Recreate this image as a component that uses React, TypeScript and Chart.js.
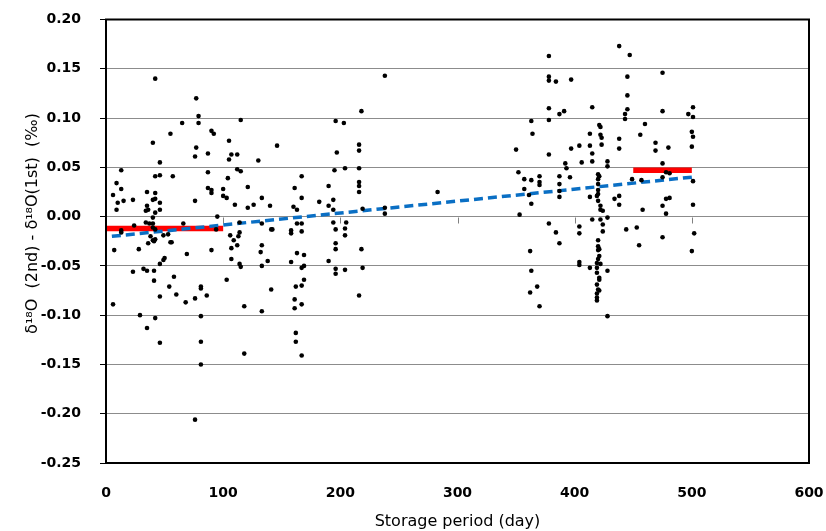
import React, { useEffect, useRef } from 'react';
import { Chart, registerables } from 'chart.js';

Chart.register(...registerables);

// [storage day, δ18O(2nd) - δ18O(1st) in ‰]
const days0to30: [number, number][] = [
  [6, 0.022], [9, 0.034], [13, 0.047], [13, 0.028], [10, 0.014], [15, 0.016], [9, 0.007],
  [23, 0.017], [24, -0.009], [13, -0.014], [13, -0.016], [6, -0.089], [7, -0.034],
  [28, -0.033], [23, -0.056], [29, -0.1],
];

const days30to60: [number, number][] = [
  [42, 0.14], [40, 0.075], [46, 0.055], [35, 0.025], [42, 0.024], [42, 0.041], [46, 0.042],
  [57, 0.041], [35, 0.011], [36, 0.007], [34, 0.006], [42, 0.018], [40, 0.017], [46, 0.014],
  [46, 0.007], [42, 0.004], [40, -0.001], [34, -0.006], [40, -0.007], [37, -0.007],
  [40, -0.011], [42, -0.013], [32, -0.053], [35, -0.055], [35, -0.113], [41, -0.055],
  [41, -0.065], [42, -0.103], [46, -0.081], [46, -0.128], [46, -0.048], [49, -0.044],
  [36, -0.027], [40, -0.024], [42, -0.023], [41, -0.025], [38, -0.02], [49, -0.019],
  [53, -0.018], [56, -0.026], [54, -0.071], [58, -0.061], [55, 0.084], [50, -0.042],
  [55, -0.026],
];

const days60to100: [number, number][] = [
  [77, 0.12], [79, 0.102], [79, 0.095], [65, 0.095], [90, 0.087], [92, 0.084], [77, 0.07],
  [76, 0.061], [87, 0.064], [76, 0.016], [87, 0.045], [87, 0.029], [90, 0.027], [90, 0.024],
  [100, 0.028], [100, 0.021], [95, 0.0], [66, -0.007], [94, -0.013], [60, -0.079],
  [68, -0.087], [69, -0.038], [76, -0.083], [81, -0.073], [81, -0.071], [86, -0.08],
  [81, -0.101], [81, -0.127], [81, -0.15], [76, -0.206], [90, -0.034],
];

const days100to150: [number, number][] = [
  [115, 0.098], [146, 0.072], [105, 0.077], [105, 0.058], [107, 0.063], [112, 0.063],
  [112, 0.048], [115, 0.046], [130, 0.057], [103, 0.019], [104, 0.039], [110, 0.012],
  [121, 0.03], [121, 0.009], [126, 0.012], [133, 0.019], [140, 0.011], [114, -0.006],
  [133, -0.007], [141, -0.013], [106, -0.019], [113, -0.02], [114, -0.016], [103, -0.064],
  [107, -0.032], [107, -0.043], [112, -0.029], [114, -0.048], [115, -0.051], [118, -0.091],
  [118, -0.139], [133, -0.029], [132, -0.036], [133, -0.05], [133, -0.096], [138, -0.045],
  [141, -0.074], [142, -0.013], [109, -0.024],
];

const days150to290: [number, number][] = [
  [238, 0.143], [218, 0.107], [196, 0.097], [203, 0.095], [197, 0.065], [216, 0.073],
  [216, 0.067], [195, 0.047], [204, 0.049], [216, 0.049], [216, 0.035], [216, 0.031],
  [216, 0.025], [167, 0.041], [161, 0.029], [167, 0.019], [190, 0.031], [194, 0.017],
  [190, 0.011], [194, 0.007], [182, 0.015], [160, 0.01], [163, 0.007], [219, 0.008],
  [238, 0.009], [238, 0.003], [194, -0.006], [205, -0.006], [196, -0.013], [204, -0.012],
  [204, -0.019], [167, -0.007], [167, -0.015], [163, -0.007], [158, -0.014], [158, -0.017],
  [158, -0.046], [163, -0.037], [169, -0.039], [167, -0.052], [169, -0.05], [169, -0.064],
  [167, -0.07], [162, -0.071], [161, -0.084], [161, -0.093], [167, -0.089], [162, -0.118],
  [162, -0.127], [167, -0.141], [190, -0.045], [196, -0.027], [196, -0.033], [196, -0.053],
  [196, -0.058], [204, -0.054], [218, -0.033], [219, -0.052], [216, -0.08], [283, 0.025],
];

const days350to440: [number, number][] = [
  [378, 0.163], [438, 0.173], [378, 0.142], [378, 0.138], [384, 0.137], [397, 0.139],
  [378, 0.11], [387, 0.104], [391, 0.107], [415, 0.111], [363, 0.097], [378, 0.098],
  [364, 0.084], [350, 0.068], [378, 0.063], [397, 0.069], [404, 0.072], [413, 0.072],
  [413, 0.084], [421, 0.093], [422, 0.091], [422, 0.083], [423, 0.08], [423, 0.073],
  [415, 0.064], [415, 0.056], [406, 0.055], [392, 0.054], [393, 0.049], [396, 0.04],
  [428, 0.056], [428, 0.051], [438, 0.079], [438, 0.069], [352, 0.045], [357, 0.038],
  [363, 0.037], [370, 0.041], [370, 0.035], [370, 0.032], [357, 0.028], [361, 0.022],
  [363, 0.013], [353, 0.002], [387, 0.041], [387, 0.033], [387, 0.02], [387, 0.026],
  [420, 0.043], [421, 0.041], [420, 0.038], [420, 0.033], [420, 0.027], [420, 0.023],
  [419, 0.021], [420, 0.016], [422, 0.011], [424, 0.006], [413, 0.02], [434, 0.018],
  [438, 0.021], [438, 0.012], [378, -0.007], [404, -0.01], [415, -0.003], [422, -0.003],
  [424, -0.008], [384, -0.016], [387, -0.027], [404, -0.017], [424, -0.015], [422, 0.007],
  [428, -0.001], [362, -0.035], [363, -0.055], [368, -0.071], [362, -0.077], [370, -0.091],
  [404, -0.046], [404, -0.049], [413, -0.052], [420, -0.024], [421, -0.033], [420, -0.034],
  [420, -0.043], [419, -0.047], [422, -0.048], [419, -0.052], [419, -0.057], [421, -0.062],
  [421, -0.064], [419, -0.069], [420, -0.074], [421, -0.075], [419, -0.078], [419, -0.082],
  [419, -0.085], [428, -0.055], [428, -0.101], [420, -0.03], [421, -0.04],
];

const days440to505: [number, number][] = [
  [447, 0.164], [475, 0.146], [445, 0.142], [445, 0.123], [445, 0.109], [443, 0.104],
  [443, 0.099], [475, 0.107], [497, 0.104], [501, 0.111], [501, 0.101], [460, 0.094],
  [456, 0.083], [469, 0.075], [469, 0.067], [480, 0.07], [500, 0.086], [501, 0.081],
  [500, 0.071], [475, 0.054], [478, 0.045], [481, 0.044], [449, 0.038], [457, 0.037],
  [475, 0.04], [501, 0.036], [478, 0.018], [481, 0.019], [475, 0.011], [478, 0.003],
  [458, 0.007], [501, 0.012], [444, -0.013], [453, -0.011], [455, -0.029], [475, -0.021],
  [502, -0.017], [500, -0.035],
];

// Regression trend line (blue dashed)
const trendDays = [5, 500];
const trendValues = [-0.02, 0.04];

// Period means (red bars)
const earlyMeanDays = [0, 100];
const earlyMean = -0.012;
const lateMeanDays = [450, 500];
const lateMean = 0.047;

const xTickValues = [0, 100, 200, 300, 400, 500, 600];
const zeroAxisTickDays = [100, 200, 300, 400, 500];

const allPoints = [
  ...days0to30, ...days30to60, ...days60to100, ...days100to150,
  ...days150to290, ...days350to440, ...days440to505,
];

const framePlugin = {
  id: 'frame',
  beforeDatasetsDraw(chart: any) {
    const { ctx, scales } = chart;
    const y0 = Math.round(scales.y.getPixelForValue(0)) + 0.5;
    ctx.save();
    ctx.strokeStyle = '#808080';
    ctx.lineWidth = 1;
    zeroAxisTickDays.forEach((d) => {
      const px = Math.round(scales.x.getPixelForValue(d)) + 0.5;
      ctx.beginPath();
      ctx.moveTo(px, y0);
      ctx.lineTo(px, y0 + 6);
      ctx.stroke();
    });
    ctx.restore();
  },
  afterDraw(chart: any) {
    const { ctx, chartArea } = chart;
    ctx.save();
    ctx.strokeStyle = '#000';
    ctx.lineWidth = 2;
    ctx.strokeRect(chartArea.left, chartArea.top, chartArea.right - chartArea.left, chartArea.bottom - chartArea.top);
    ctx.restore();
  },
};

export default function App() {
  const ref = useRef<HTMLCanvasElement>(null);

  useEffect(() => {
    if (!ref.current) return;
    const tickFont = { family: 'DejaVu Sans', size: 14, weight: 'bold' as const };
    const chart = new Chart(ref.current, {
      type: 'scatter',
      data: {
        datasets: [
          {
            label: 'measured',
            data: allPoints.map(([x, y]) => ({ x, y })),
            backgroundColor: '#000',
            borderColor: '#000',
            pointRadius: 2.3,
            pointBorderWidth: 0,
            showLine: false,
          },
          {
            label: 'trend',
            type: 'line',
            data: trendDays.map((x, i) => ({ x, y: trendValues[i] })),
            borderColor: '#0a6fc4',
            borderWidth: 3.5,
            borderDash: [9, 5],
            pointRadius: 0,
            fill: false,
          },
          {
            label: 'early mean',
            type: 'line',
            data: earlyMeanDays.map((x) => ({ x, y: earlyMean })),
            borderColor: '#ff0000',
            borderWidth: 5.5,
            pointRadius: 0,
            fill: false,
          },
          {
            label: 'late mean',
            type: 'line',
            data: lateMeanDays.map((x) => ({ x, y: lateMean })),
            borderColor: '#ff0000',
            borderWidth: 5.5,
            pointRadius: 0,
            fill: false,
          },
        ],
      } as any,
      options: {
        animation: false,
        responsive: false,
        maintainAspectRatio: false,
        layout: { padding: { top: 19.5, right: 17, left: 0, bottom: 0 } },
        plugins: { legend: { display: false }, tooltip: { enabled: false } },
        scales: {
          x: {
            type: 'linear',
            min: 0,
            max: 600,
            afterBuildTicks: (scale: any) => {
              scale.ticks = xTickValues.map((v) => ({ value: v }));
            },
            ticks: { color: '#000', font: tickFont, padding: 22, maxRotation: 0 },
            grid: { display: true, drawOnChartArea: false, drawTicks: false },
            border: { display: true, color: '#000', width: 2 },
            title: {
              display: true,
              text: 'Storage period (day)',
              color: '#000',
              font: { family: 'DejaVu Sans', size: 16, lineHeight: 1.1 },
              padding: { top: 0, bottom: 0 },
            },
            afterFit: (scale: any) => {
              scale.height = 68;
              scale.paddingLeft = 0;
              scale.paddingRight = 0;
            },
          },
          y: {
            type: 'linear',
            min: -0.25,
            max: 0.2,
            ticks: {
              stepSize: 0.05,
              color: '#000',
              font: tickFont,
              padding: 19,
              callback: (v: any) => (Math.abs(Number(v)) < 1e-9 ? '0.00' : Number(v).toFixed(2)),
            },
            grid: { color: '#8c8c8c', lineWidth: 1, tickColor: '#000', tickLength: 6 },
            border: { color: '#000', width: 2 },
            title: {
              display: true,
              text: '       δ¹⁸O  (2nd) - δ¹⁸O(1st)  (‰)',
              color: '#000',
              font: { family: 'DejaVu Sans', size: 16 },
              padding: { top: 23, bottom: 0 },
            },
            afterFit: (scale: any) => {
              scale.width = 106;
              scale.paddingTop = 0;
              scale.paddingBottom = 0;
            },
          },
        },
      } as any,
      plugins: [framePlugin],
    });
    return () => chart.destroy();
  }, []);

  return (
    <div style={{ position: 'fixed', left: 0, top: 0, width: 826, height: 531, background: '#fff' }}>
      <canvas ref={ref} width={826} height={531} style={{ display: 'block' }} />
    </div>
  );
}
